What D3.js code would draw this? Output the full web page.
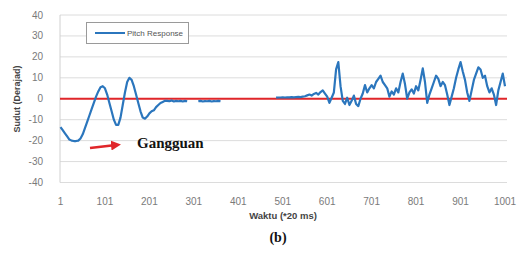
<!DOCTYPE html>
<html><head><meta charset="utf-8">
<script src="https://cdn.jsdelivr.net/npm/d3@7"></script>
<style>body{margin:0;background:#fff}svg{display:block}</style>
</head><body>
<script>
const yTicks = [-40,-30,-20,-10,0,10,20,30,40];
const xTicks = [1,101,201,301,401,501,601,701,801,901,1001];
const times = d3.range(1, 1002, 5);
const pitch = [
-13.5,-15,-16.5,-18,-19.5,-20,-20.2,-20.2,-20,-19,-17,-14,-11,-8,-5,-2,1,3.5,5.5,6,
5,2,-2,-6,-10,-12.5,-12.5,-9,-3,3,8,10,9,6,2,-2,-6,-9,-9.5,-8.5,
-7,-6,-5.5,-4,-3,-2,-1.5,-1,-1,-1.2,-0.8,-1.3,-1,-1.2,-1,-1.3,-1,-1.2,null,null,
null,null,-1.2,-1,-1.3,-1.1,-1.2,-1,-1.3,-1.1,-1.2,-1,-1.2,null,null,null,null,null,null,null,
null,null,null,null,null,null,null,null,null,null,null,null,null,null,null,null,null,0.5,0.6,0.6,
0.7,0.6,0.7,0.7,0.8,0.7,0.8,0.9,0.8,1.0,1.2,1.6,2.0,1.5,2.3,2.8,2.0,3.2,4.0,2.5,
1.0,-2.0,0.5,3.0,14,17.5,6,-1,-2.5,0.5,-3,-1,1.5,-2.5,-3.5,0,2.5,6.5,3,5,
6.5,5,8,9.5,11,8,6.5,5,1,3.5,2,5,3,8,12,7,0,3,4.5,2.5,
6,4,9,14.5,8,-2,2,5,8,11,9.5,6,8,6.5,2,-3,1,5,10,14,
17.5,13,9,3,-1,4,9,12,15,14,10,11,6,3,5,2,-3,4,8,12,
6
];
const seriesName = "Pitch Response";

const W = 519, H = 253;
const svg = d3.select("body").append("svg").attr("width", W).attr("height", H);
const x = d3.scaleLinear().domain([1, 1001]).range([60.5, 505]);
const y = d3.scaleLinear().domain([-40, 40]).range([182.5, 15]);
const left = 60, right = 507;

// gridlines
svg.append("g").selectAll("line").data(yTicks).join("line")
  .attr("x1", left).attr("x2", right)
  .attr("y1", d => y(d)).attr("y2", d => y(d))
  .attr("stroke", "#dcdcdc").attr("stroke-width", 1);
// left axis line
svg.append("line").attr("x1", left).attr("x2", left).attr("y1", y(40)).attr("y2", y(-40))
  .attr("stroke", "#d0d0d0");

// y tick labels
svg.append("g").selectAll("text").data(yTicks).join("text")
  .attr("x", 43).attr("y", d => y(d) + 3.5)
  .attr("text-anchor", "end").attr("font-family", "Liberation Sans, Arial, sans-serif")
  .attr("font-size", 10).attr("fill", "#7a7a7a").text(d => d);
// x tick labels
svg.append("g").selectAll("text").data(xTicks).join("text")
  .attr("x", d => x(d)).attr("y", 205)
  .attr("text-anchor", "middle").attr("font-family", "Liberation Sans, Arial, sans-serif")
  .attr("font-size", 10).attr("fill", "#7a7a7a").text(d => d);

// axis titles
svg.append("text").attr("transform", "translate(20,99) rotate(-90)")
  .attr("text-anchor", "middle").attr("font-family", "Liberation Sans, Arial, sans-serif")
  .attr("font-weight", "bold").attr("font-size", 9).attr("fill", "#444").text("Sudut (Derajad)");
svg.append("text").attr("x", 283).attr("y", 219)
  .attr("text-anchor", "middle").attr("font-family", "Liberation Sans, Arial, sans-serif")
  .attr("font-weight", "bold").attr("font-size", 9.5).attr("fill", "#444").text("Waktu (*20 ms)");
svg.append("text").attr("x", 278).attr("y", 242)
  .attr("text-anchor", "middle").attr("font-family", "Liberation Serif, Times New Roman, serif")
  .attr("font-weight", "bold").attr("font-size", 14).attr("fill", "#111").text("(b)");

// zero reference line
svg.append("line").attr("x1", left).attr("x2", right).attr("y1", y(0)).attr("y2", y(0))
  .attr("stroke", "#e0262a").attr("stroke-width", 2);

// series
const data = times.map((t, i) => ({t, v: pitch[i]}));
const line = d3.line().defined(d => d.v !== null).x(d => x(d.t)).y(d => y(d.v));
svg.append("path").datum(data).attr("d", line)
  .attr("fill", "none").attr("stroke", "#2b76bd").attr("stroke-width", 2.2)
  .attr("stroke-linejoin", "round");

// legend
svg.append("rect").attr("x", 86.5).attr("y", 22.5).attr("width", 102).attr("height", 21)
  .attr("fill", "#fff").attr("stroke", "#9a9a9a");
svg.append("line").attr("x1", 95).attr("x2", 125).attr("y1", 33).attr("y2", 33)
  .attr("stroke", "#2b76bd").attr("stroke-width", 2);
svg.append("text").attr("x", 127).attr("y", 36).attr("font-family", "Liberation Sans, Arial, sans-serif")
  .attr("font-size", 8).attr("fill", "#555").text(seriesName);

// annotation
svg.append("defs").append("marker").attr("id", "ah").attr("viewBox", "0 0 10 10")
  .attr("refX", 5).attr("refY", 5).attr("markerWidth", 4).attr("markerHeight", 4)
  .attr("orient", "auto").append("path").attr("d", "M0,0 L10,5 L0,10 z").attr("fill", "#e0262a");
svg.append("line").attr("x1", 90).attr("x2", 116).attr("y1", 148).attr("y2", 145)
  .attr("stroke", "#e0262a").attr("stroke-width", 2.5).attr("marker-end", "url(#ah)");
svg.append("text").attr("x", 137).attr("y", 148).attr("font-family", "Liberation Serif, Times New Roman, serif")
  .attr("font-weight", "bold").attr("font-size", 15).attr("fill", "#111").text("Gangguan");
</script>
</body></html>
